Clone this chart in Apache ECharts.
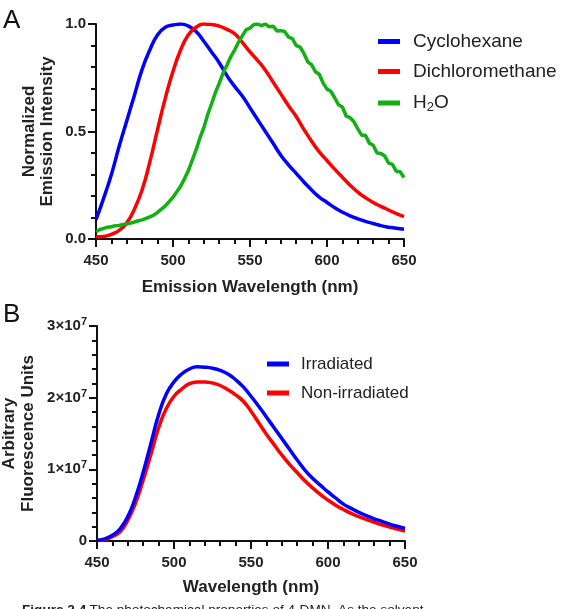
<!DOCTYPE html>
<html>
<head>
<meta charset="utf-8">
<script src="https://cdn.jsdelivr.net/npm/echarts@6/dist/echarts.min.js"></script>
<style>
  html, body { margin: 0; padding: 0; background: #fff; }
  #chart { width: 561px; height: 609px; }
</style>
</head>
<body>
<div id="chart"></div>
<script>
// wavelength (nm), shared by the smooth curves
const wavelengths = [450, 455, 460, 465, 470, 475, 480, 485, 490, 495, 500, 505, 510, 515, 520, 525, 530, 535, 540, 545,
  550, 555, 560, 565, 570, 575, 580, 585, 590, 595, 600, 605, 610, 615, 620, 625, 630, 635, 640, 645, 650];

// Panel A - normalized emission
const cyclohexane = [0.09, 0.19, 0.30, 0.43, 0.55, 0.67, 0.79, 0.88, 0.95, 0.985, 0.995, 1.0, 0.99, 0.965, 0.92, 0.87, 0.82, 0.76, 0.71, 0.665,
  0.61, 0.555, 0.50, 0.445, 0.39, 0.345, 0.305, 0.265, 0.228, 0.195, 0.17, 0.145, 0.125, 0.108, 0.094, 0.082, 0.072, 0.062, 0.055, 0.05, 0.045];
const dichloromethane = [0.01, 0.012, 0.022, 0.04, 0.075, 0.14, 0.23, 0.36, 0.51, 0.655, 0.78, 0.88, 0.95, 0.985, 1.0, 0.998, 0.99, 0.975, 0.955, 0.915,
  0.87, 0.83, 0.785, 0.73, 0.675, 0.62, 0.57, 0.51, 0.455, 0.405, 0.365, 0.325, 0.287, 0.25, 0.218, 0.192, 0.17, 0.152, 0.135, 0.118, 0.104];

// H2O trace is noisier, read at 2.5 nm
const waterWavelengths = [450, 452.5, 455, 457.5, 460, 462.5, 465, 467.5, 470, 472.5, 475, 477.5, 480, 482.5, 485, 487.5, 490, 492.5, 495, 497.5,
  500, 502.5, 505, 507.5, 510, 512.5, 515, 517.5, 520, 522.5, 525, 527.5, 530, 532.5, 535, 537.5, 540, 542.5, 545, 547.5,
  550, 552.5, 555, 557.5, 560, 562.5, 565, 567.5, 570, 572.5, 575, 577.5, 580, 582.5, 585, 587.5, 590, 592.5, 595, 597.5,
  600, 602.5, 605, 607.5, 610, 612.5, 615, 617.5, 620, 622.5, 625, 627.5, 630, 632.5, 635, 637.5, 640, 642.5, 645, 647.5, 650];
const water = [0.034, 0.044, 0.049, 0.055, 0.057, 0.062, 0.063, 0.068, 0.07, 0.074, 0.079, 0.085, 0.089, 0.096, 0.103, 0.111, 0.124, 0.139, 0.154, 0.174,
  0.194, 0.22, 0.246, 0.281, 0.318, 0.367, 0.414, 0.47, 0.518, 0.578, 0.628, 0.681, 0.724, 0.772, 0.808, 0.848, 0.879, 0.915, 0.945, 0.974,
  0.981, 0.998, 1.0, 0.992, 1.0, 0.987, 0.99, 0.968, 0.969, 0.965, 0.939, 0.932, 0.90, 0.893, 0.863, 0.824, 0.811, 0.778, 0.766, 0.725,
  0.697, 0.687, 0.657, 0.624, 0.614, 0.571, 0.564, 0.545, 0.512, 0.483, 0.482, 0.446, 0.436, 0.40, 0.398, 0.386, 0.353, 0.347, 0.315, 0.313, 0.286];

// Panel B - fluorescence, in units of 1e7
const irradiated = [0.01, 0.03, 0.08, 0.17, 0.34, 0.61, 0.96, 1.36, 1.76, 2.05, 2.22, 2.33, 2.40, 2.43, 2.425, 2.41, 2.38, 2.33, 2.25, 2.15,
  2.02, 1.88, 1.73, 1.58, 1.43, 1.28, 1.13, 0.99, 0.875, 0.78, 0.685, 0.60, 0.515, 0.455, 0.40, 0.355, 0.31, 0.275, 0.235, 0.205, 0.175];
const nonIrradiated = [0.005, 0.02, 0.06, 0.13, 0.29, 0.53, 0.85, 1.21, 1.58, 1.85, 2.02, 2.12, 2.195, 2.22, 2.22, 2.205, 2.17, 2.11, 2.04, 1.95,
  1.81, 1.65, 1.49, 1.345, 1.20, 1.07, 0.955, 0.84, 0.74, 0.65, 0.57, 0.50, 0.44, 0.385, 0.34, 0.30, 0.26, 0.225, 0.195, 0.165, 0.14];

const legendA = ['Cyclohexane', 'Dichloromethane', 'H2O'];
const legendB = ['Irradiated', 'Non-irradiated'];

const toPairs = (xs, vals, scale) => xs.map((w, i) => [w, vals[i] * (scale || 1)]);

const font = 'Liberation Sans, Arial, sans-serif';
const axisColor = '#111';

function xAxisFor(gridIndex, name, gap) {
  return {
    gridIndex: gridIndex,
    type: 'value',
    min: 450, max: 650, interval: 50,
    name: name,
    nameLocation: 'middle',
    nameGap: gap,
    nameTextStyle: { fontFamily: font, fontSize: 17, fontWeight: 'bold', color: '#222' },
    axisLine: { lineStyle: { color: axisColor, width: 2 } },
    axisTick: { length: 8, lineStyle: { color: axisColor, width: 2 } },
    minorTick: { show: true, splitNumber: 5, length: 5, lineStyle: { color: axisColor, width: 2 } },
    splitLine: { show: false },
    axisLabel: { margin: 14, fontFamily: font, fontSize: 15, fontWeight: 'bold', color: '#222' }
  };
}

function yAxisFor(gridIndex, max, interval, labelOpts) {
  return Object.assign({
    gridIndex: gridIndex,
    type: 'value',
    min: 0, max: max, interval: interval,
    axisLine: { show: true, lineStyle: { color: axisColor, width: 2 } },
    axisTick: { show: true, length: 8, lineStyle: { color: axisColor, width: 2 } },
    minorTick: { show: true, splitNumber: 5, length: 5, lineStyle: { color: axisColor, width: 2 } },
    splitLine: { show: false }
  }, { axisLabel: labelOpts });
}

// rotated y-axis title line
const yTitle = (text, x, y) => ({
  type: 'text', x: x, y: y, rotation: Math.PI / 2,
  style: { text: text, font: 'bold 17px ' + font, fill: '#222', align: 'center', verticalAlign: 'middle' }
});

const lineSeries = (name, xs, vals, color, axis, scale, smooth) => ({
  name: name, type: 'line', xAxisIndex: axis, yAxisIndex: axis,
  data: toPairs(xs, vals, scale), showSymbol: false,
  smooth: smooth,
  lineStyle: { color: color, width: 3.5 }, itemStyle: { color: color }
});

const myChart = echarts.init(document.getElementById('chart'), null, { renderer: 'canvas' });

myChart.setOption({
  animation: false,
  backgroundColor: '#fff',
  grid: [
    { left: 96, top: 24, width: 308, height: 215, containLabel: false, outerBoundsMode: 'none' },
    { left: 97, top: 326, width: 308, height: 215, containLabel: false, outerBoundsMode: 'none' }
  ],
  xAxis: [
    xAxisFor(0, 'Emission Wavelength (nm)', 40),
    xAxisFor(1, 'Wavelength (nm)', 38)
  ],
  yAxis: [
    yAxisFor(0, 1, 0.5, {
      margin: 10, fontFamily: font, fontSize: 15, fontWeight: 'bold', color: '#222',
      formatter: v => v.toFixed(1)
    }),
    yAxisFor(1, 3e7, 1e7, {
      margin: 10, color: '#222',
      formatter: v => v === 0 ? '{b|0}' : '{b|' + Math.round(v / 1e7) + '×10}{s|7}',
      rich: {
        b: { fontFamily: font, fontSize: 15, fontWeight: 'bold', color: '#222' },
        s: { fontFamily: font, fontSize: 11, fontWeight: 'bold', color: '#222', padding: [0, 0, 8, 0] }
      }
    })
  ],
  legend: [
    {
      data: legendA,
      left: 378, top: 32, padding: 0,
      orient: 'vertical',
      itemWidth: 22, itemHeight: 5, itemGap: 11,
      icon: 'rect',
      formatter: name => name === 'H2O' ? '{n|H}{sub|2}{n|O}' : '{n|' + name + '}',
      textStyle: {
        padding: [0, 0, 0, 8],
        rich: {
          n: { fontFamily: font, fontSize: 19, color: '#222', lineHeight: 20 },
          sub: { fontFamily: font, fontSize: 13, color: '#222', lineHeight: 20, padding: [9, 0, 0, 0] }
        }
      }
    },
    {
      data: legendB,
      left: 267, top: 355, padding: 0,
      orient: 'vertical',
      itemWidth: 22, itemHeight: 5, itemGap: 11,
      icon: 'rect',
      textStyle: { fontFamily: font, fontSize: 17, lineHeight: 18, color: '#222', padding: [0, 0, 0, 7] }
    }
  ],
  graphic: [
    { type: 'text', left: 3, top: 8, style: { text: 'A', font: '26px ' + font, fill: '#111' } },
    { type: 'text', left: 3, top: 302, style: { text: 'B', font: '26px ' + font, fill: '#111' } },
    yTitle('Normalized', 29, 131.5),
    yTitle('Emission Intensity', 47.5, 131.5),
    yTitle('Arbitrary', 9.5, 433.5),
    yTitle('Fluorescence Units', 28, 433.5),
    {
      type: 'text', left: 22, top: 603,
      style: {
        text: '{b|Figure 2.4} {n|The photochemical properties of 4-DMN. As the solvent}',
        rich: {
          b: { fontFamily: font, fontSize: 13.6, fontWeight: 'bold', fill: '#222' },
          n: { fontFamily: font, fontSize: 13.6, fill: '#222' }
        }
      }
    }
  ],
  series: [
    lineSeries('Cyclohexane', wavelengths, cyclohexane, '#0000ff', 0, 1, 0.5),
    lineSeries('Dichloromethane', wavelengths, dichloromethane, '#ff0000', 0, 1, 0.5),
    lineSeries('H2O', waterWavelengths, water, '#12b012', 0, 1, false),
    lineSeries('Non-irradiated', wavelengths, nonIrradiated, '#ff0000', 1, 1e7, 0.5),
    Object.assign(lineSeries('Irradiated', wavelengths, irradiated, '#0000ff', 1, 1e7, 0.5), { z: 3 })
  ]
});

window.addEventListener('resize', () => myChart.resize());
</script>
</body>
</html>
